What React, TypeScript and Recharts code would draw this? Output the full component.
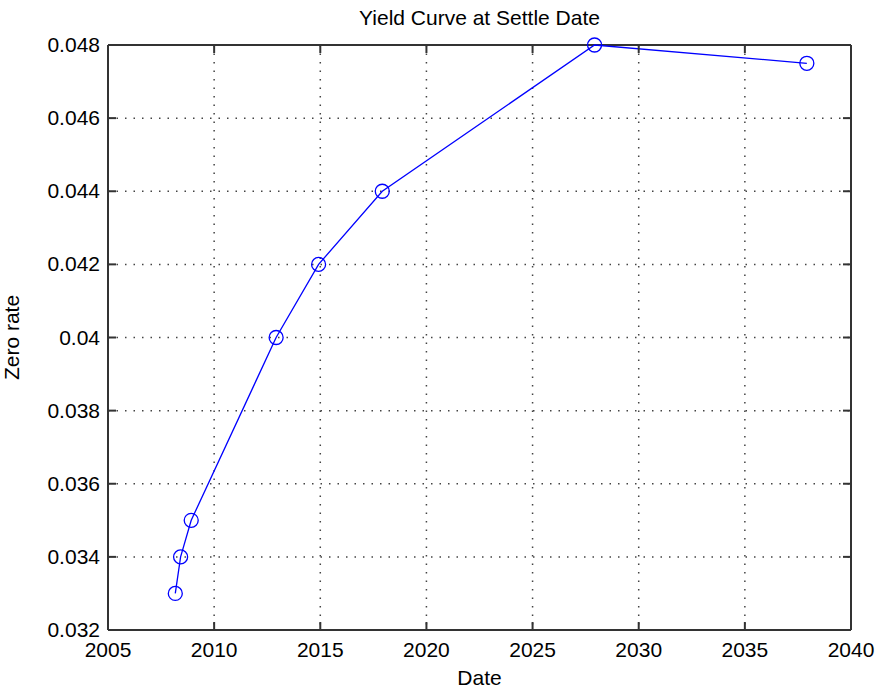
import { LineChart, Line, XAxis, YAxis, CartesianGrid, ReferenceLine } from 'recharts';

// settle date ~ Dec 2007, maturities 3m .. 30y
const dates = [2008.17, 2008.42, 2008.92, 2012.92, 2014.92, 2017.92, 2027.92, 2037.92];
const zeroRates = [0.033, 0.034, 0.035, 0.04, 0.042, 0.044, 0.048, 0.0475];
const xTicks = [2005, 2010, 2015, 2020, 2025, 2030, 2035, 2040];
const yTicks = [0.032, 0.034, 0.036, 0.038, 0.04, 0.042, 0.044, 0.046, 0.048];

const data = dates.map((d, i) => ({ date: d, rate: zeroRates[i] }));

const FONT = '"Liberation Sans", Arial, sans-serif';
const FS = 21;
const AXIS = '#333';
const TICK = 8;
const W = 879;
const H = 690;
const M = { top: 45, right: 28, left: 8, bottom: 0 };
const PLOT_TOP = M.top;
const PLOT_RIGHT = W - M.right;

const fmtY = (v: number) => String(Number(v.toFixed(3)));

// inward ticks on bottom + top edge
function BottomTick({ x, y, payload }: any) {
  return (
    <g>
      <line x1={x} y1={y} x2={x} y2={y - TICK} stroke={AXIS} strokeWidth={2} />
      <line x1={x} y1={PLOT_TOP} x2={x} y2={PLOT_TOP + TICK} stroke={AXIS} strokeWidth={2} />
      <text x={x} y={y + 27} textAnchor="middle" fontFamily={FONT} fontSize={FS} fill="#000">
        {payload.value}
      </text>
    </g>
  );
}

// inward ticks on left + right edge
function LeftTick({ x, y, payload }: any) {
  return (
    <g>
      <line x1={x} y1={y} x2={x + TICK} y2={y} stroke={AXIS} strokeWidth={2} />
      <line x1={PLOT_RIGHT} y1={y} x2={PLOT_RIGHT - TICK} y2={y} stroke={AXIS} strokeWidth={2} />
      <text x={x - 8} y={y + 7} textAnchor="end" fontFamily={FONT} fontSize={FS} fill="#000">
        {fmtY(payload.value)}
      </text>
    </g>
  );
}

function Marker({ cx, cy }: any) {
  return <circle cx={cx} cy={cy} r={7} fill="none" stroke="#0000ff" strokeWidth={1.3} />;
}

export default function App() {
  return (
    <div style={{ position: 'relative', width: W, height: H, background: '#fff' }}>
      <style>{'body{margin:0}'}</style>
      <div
        style={{
          position: 'absolute',
          left: 108,
          width: 743,
          top: 6,
          textAlign: 'center',
          fontFamily: FONT,
          fontSize: FS,
          color: '#000',
        }}
      >
        Yield Curve at Settle Date
      </div>
      <LineChart width={W} height={H} data={data} margin={M}>
        <CartesianGrid xAxisId="b" yAxisId="l" stroke="#444" strokeDasharray="1.5 7" strokeWidth={1.5} />
        <XAxis
          xAxisId="b"
          dataKey="date"
          type="number"
          domain={[2005, 2040]}
          ticks={xTicks}
          height={60}
          tickSize={0}
          tickMargin={0}
          tickLine={false}
          axisLine={{ stroke: AXIS, strokeWidth: 2 }}
          tick={<BottomTick />}
          label={{ value: 'Date', position: 'insideBottom', offset: 5, fontFamily: FONT, fontSize: FS, fill: '#000' }}
        />
        <YAxis
          yAxisId="l"
          type="number"
          domain={[0.032, 0.048]}
          ticks={yTicks}
          width={100}
          tickSize={0}
          tickMargin={0}
          tickLine={false}
          axisLine={{ stroke: AXIS, strokeWidth: 2 }}
          tick={<LeftTick />}
          label={{
            value: 'Zero rate',
            angle: -90,
            position: 'insideLeft',
            offset: 4,
            style: { textAnchor: 'middle' },
            fontFamily: FONT,
            fontSize: FS,
            fill: '#000',
          }}
        />
        <ReferenceLine xAxisId="b" yAxisId="l" y={yTicks[yTicks.length - 1]} stroke={AXIS} strokeWidth={2} />
        <ReferenceLine xAxisId="b" yAxisId="l" x={xTicks[xTicks.length - 1]} stroke={AXIS} strokeWidth={2} />
        <Line
          xAxisId="b"
          yAxisId="l"
          dataKey="rate"
          type="linear"
          stroke="#0000ff"
          strokeWidth={1.3}
          dot={<Marker />}
          activeDot={false}
          isAnimationActive={false}
        />
      </LineChart>
    </div>
  );
}
